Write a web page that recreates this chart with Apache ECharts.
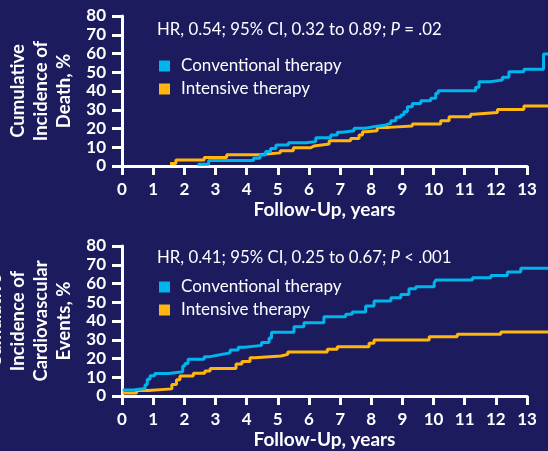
<!DOCTYPE html>
<html>
<head>
<meta charset="utf-8">
<script src="https://cdn.jsdelivr.net/npm/echarts@6/dist/echarts.min.js"></script>
<style>
  html, body { margin: 0; padding: 0; background: #1c1b5e; }
  #chart { width: 548px; height: 451px; }
</style>
</head>
<body>
<div id="chart"></div>
<script>
// Follow-up axis (years) and cumulative incidence axis (%)
const yearTicks = [0, 1, 2, 3, 4, 5, 6, 7, 8, 9, 10, 11, 12, 13];
const percentTicks = [0, 10, 20, 30, 40, 50, 60, 70, 80];
const followUpEnd = 13.68; // curves run a little past the last labelled year

const seriesNames = ['Conventional therapy', 'Intensive therapy'];

// Cumulative incidence of death: [years, %] at each step
const deathConventional = [
  [2.43, 1.0], [2.78, 2.9], [4.22, 4.1], [4.43, 5.9], [4.61, 7.7], [4.77, 9.4],
  [4.94, 11.2], [5.34, 12.4], [5.9, 13.0], [6.22, 15.1], [6.7, 16.5], [6.91, 18.0],
  [7.07, 18.8], [7.45, 20.1], [7.82, 21.0], [8.09, 21.9], [8.47, 22.8], [8.63, 24.2],
  [8.79, 26.0], [8.95, 27.2], [9.05, 29.0], [9.16, 31.6], [9.32, 33.4], [9.59, 34.8],
  [9.91, 36.1], [10.07, 38.8], [10.15, 40.2], [11.35, 42.0], [11.46, 45.0],
  [11.84, 45.9], [12.21, 47.3], [12.42, 50.3], [12.9, 51.6], [13.53, 59.7], [13.68, 59.7]
];
const deathIntensive = [
  [1.54, 1.4], [1.73, 3.2], [2.64, 4.6], [3.36, 6.0], [4.38, 7.0], [5.08, 8.2],
  [5.5, 9.7], [6.06, 10.7], [6.16, 11.7], [6.65, 13.5], [7.34, 14.7], [7.61, 16.5],
  [7.72, 18.3], [7.82, 18.8], [8.19, 20.6], [8.57, 21.3], [9.32, 22.4], [10.23, 24.2],
  [10.5, 26.3], [11.19, 27.6], [11.3, 28.5], [12.05, 30.2], [12.9, 32.0], [13.68, 32.0]
];

// Cumulative incidence of cardiovascular events: [years, %] at each step
const cvConventional = [
  [0.02, 3.2], [0.36, 4.0], [0.74, 6.0], [0.81, 9.0], [0.9, 10.8], [1.05, 12.0],
  [1.49, 12.9], [1.95, 16.0], [2.02, 17.4], [2.12, 19.6], [2.64, 21.0], [2.83, 22.0],
  [3.15, 23.0], [3.47, 24.5], [3.73, 26.0], [3.95, 27.0], [4.48, 28.5], [4.72, 31.0],
  [4.8, 34.0], [5.52, 37.0], [5.84, 39.1], [6.48, 42.3], [7.18, 43.6], [7.39, 44.8],
  [7.82, 48.0], [8.09, 50.7], [8.63, 52.4], [8.95, 54.2], [9.21, 57.2], [9.43, 58.3],
  [10.02, 60.4], [10.08, 61.9], [11.25, 63.1], [11.84, 64.3], [12.37, 66.1],
  [12.8, 68.1], [13.68, 68.1]
];
const cvIntensive = [
  [0.02, 1.6], [0.47, 2.9], [0.85, 3.8], [1.6, 6.2], [1.75, 8.7], [1.86, 10.7],
  [2.29, 12.1], [2.66, 13.3], [2.83, 14.7], [3.66, 17.1], [3.85, 18.4], [4.11, 20.4],
  [4.27, 21.3], [5.1, 22.2], [5.32, 23.5], [6.59, 24.9], [6.91, 26.3], [7.93, 28.1],
  [8.09, 29.9], [9.86, 31.6], [10.76, 32.9], [12.16, 34.1], [13.68, 34.1]
];

const hrDeath = 'HR, 0.54; 95% CI, 0.32 to 0.89; {i|P} = .02';
const hrCv = 'HR, 0.41; 95% CI, 0.25 to 0.67; {i|P} < .001';

const BLUE = '#00b4ec';
const GOLD = '#ffb60f';
const WHITE = '#ffffff';
const FONT = 'Lato, "Open Sans", sans-serif';

// Panel geometry
const PLOT_LEFT = 122;
const AXIS_WIDTH = 405;
const PLOT_HEIGHT = 150;
const pxPerYear = AXIS_WIDTH / yearTicks[yearTicks.length - 1];
const panelTops = [16, 246];

const chart = echarts.init(document.getElementById('chart'), null, { renderer: 'canvas' });

// Each panel has a data grid (runs to the end of follow-up) and an axis grid
// whose x-axis stops at the last labelled year.
const grids = [];
panelTops.forEach(top => {
  grids.push({ left: PLOT_LEFT, top, width: pxPerYear * followUpEnd, height: PLOT_HEIGHT, outerBoundsMode: 'none' });
  grids.push({ left: PLOT_LEFT, top, width: AXIS_WIDTH, height: PLOT_HEIGHT, outerBoundsMode: 'none' });
});

function dataXAxis(gridIndex) {
  return { type: 'value', gridIndex, min: 0, max: followUpEnd, show: false };
}

function shownXAxis(gridIndex) {
  return {
    type: 'value', gridIndex,
    min: yearTicks[0], max: yearTicks[yearTicks.length - 1], interval: 1,
    name: 'Follow-Up, years', nameLocation: 'middle', nameGap: 34,
    nameTextStyle: { color: WHITE, fontFamily: FONT, fontWeight: 'bold', fontSize: 19 },
    axisLine: { show: true, lineStyle: { color: WHITE, width: 3 } },
    axisTick: { show: true, length: 9, lineStyle: { color: WHITE, width: 3 } },
    axisLabel: { color: WHITE, fontFamily: FONT, fontWeight: 'bold', fontSize: 17, margin: 15 },
    splitLine: { show: false }
  };
}

function shownYAxis(gridIndex, name, gap) {
  return {
    type: 'value', gridIndex,
    min: percentTicks[0], max: percentTicks[percentTicks.length - 1], interval: 10,
    name, nameLocation: 'middle', nameGap: gap, nameRotate: 90,
    nameTextStyle: { color: WHITE, fontFamily: FONT, fontWeight: 'bold', fontSize: 18.5, lineHeight: 23, align: 'center' },
    axisLine: { show: true, lineStyle: { color: WHITE, width: 3 } },
    axisTick: { show: true, length: 10, lineStyle: { color: WHITE, width: 3 } },
    axisLabel: { color: WHITE, fontFamily: FONT, fontWeight: 'bold', fontSize: 17, margin: 16 },
    splitLine: { show: false }
  };
}

function hiddenYAxis(gridIndex) {
  return { type: 'value', gridIndex, min: 0, max: 80, show: false };
}

function curve(name, data, color, idx) {
  return {
    type: 'line', name, data, step: 'end', xAxisIndex: idx, yAxisIndex: idx,
    showSymbol: false, symbol: 'none',
    lineStyle: { color, width: 3 }, itemStyle: { color }
  };
}

function legend(top) {
  return {
    orient: 'vertical', left: 159, top, padding: 0, itemWidth: 11, itemHeight: 11, itemGap: 5,
    icon: 'rect', data: seriesNames, selectedMode: false,
    textStyle: { color: WHITE, fontFamily: FONT, fontSize: 17, lineHeight: 18, padding: [0, 0, 0, 6] }
  };
}

function hrText(text, top) {
  return {
    type: 'text', left: 157, top,
    style: {
      text, fill: WHITE, font: '16.8px ' + FONT,
      rich: { i: { fill: WHITE, fontStyle: 'italic', fontSize: 16.8, fontFamily: FONT } }
    }
  };
}

chart.setOption({
  backgroundColor: '#1c1b5e',
  animation: false,
  grid: grids,
  xAxis: [dataXAxis(0), shownXAxis(1), dataXAxis(2), shownXAxis(3)],
  yAxis: [
    shownYAxis(0, 'Cumulative\nIncidence of\nDeath, %', 40),
    hiddenYAxis(1),
    shownYAxis(2, 'Cumulative\nIncidence of\nCardiovascular\nEvents, %', 45),
    hiddenYAxis(3)
  ],
  legend: [legend(57), legend(278)],
  graphic: [hrText(hrDeath, 21), hrText(hrCv, 249)],
  series: [
    curve(seriesNames[1], deathIntensive, GOLD, 0),
    curve(seriesNames[0], deathConventional, BLUE, 0),
    curve(seriesNames[1], cvIntensive, GOLD, 2),
    curve(seriesNames[0], cvConventional, BLUE, 2)
  ]
});
</script>
</body>
</html>
